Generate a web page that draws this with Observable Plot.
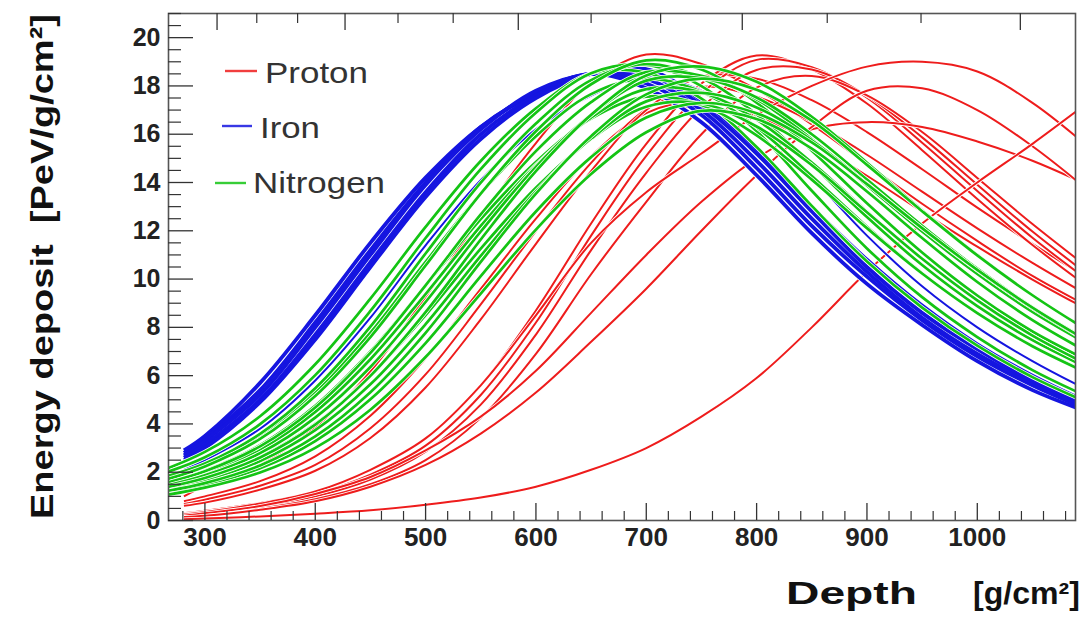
<!DOCTYPE html>
<html><head><meta charset="utf-8">
<script src="https://cdn.jsdelivr.net/npm/d3@7"></script>
<script src="https://cdn.jsdelivr.net/npm/@observablehq/plot@0.6"></script>
<style>
html,body{margin:0;padding:0;background:#fff;}
#chart{width:1088px;height:624px;}
</style></head><body><div id="chart"></div>
<script>
// ---------------- data ----------------
const legendLabels = ["Proton", "Iron", "Nitrogen"];
const familyColors = ["#ee1c1c", "#1515e0", "#14c414"];
const xTickLabels = [300, 400, 500, 600, 700, 800, 900, 1000];
const yTickLabels = [0, 2, 4, 6, 8, 10, 12, 14, 16, 18, 20];
const topMajorTicks = [311, 427, 584, 787, 1039];
const topMinorTicks = [347, 384, 475, 525, 650, 713, 864, 949];

const protonDepth = [281, 300, 350, 400, 450, 500, 550, 600, 650, 700, 750, 800, 850, 900, 950, 1000, 1050, 1100];
const protonValues = [
  [1.0, 1.45, 2.32, 3.86, 6.18, 9.26, 12.55, 15.63, 18.14, 19.3, 18.91, 17.85, 16.41, 14.76, 13.12, 11.58, 10.13, 8.88],
  [0.8, 1.0, 1.63, 2.66, 4.34, 6.72, 9.59, 12.5, 15.09, 16.87, 17.36, 16.77, 15.66, 14.28, 12.79, 11.34, 9.98, 8.73],
  [0.68, 0.86, 1.44, 2.3, 3.82, 6.05, 8.95, 11.99, 14.81, 17.03, 17.96, 17.55, 16.52, 15.15, 13.62, 12.1, 10.67, 9.34],
  [0.61, 0.74, 1.28, 2.06, 3.42, 5.51, 8.33, 11.46, 14.47, 17.0, 18.38, 18.3, 17.41, 16.09, 14.55, 12.96, 11.46, 10.04],
  [0.3, 0.4, 0.72, 1.2, 2.1, 3.4, 5.6, 8.7, 12.3, 15.6, 18.1, 19.26, 18.68, 17.27, 15.34, 13.32, 11.41, 9.69],
  [0.27, 0.36, 0.65, 1.1, 1.9, 3.1, 5.2, 8.2, 11.8, 15.1, 17.7, 19.08, 18.78, 17.51, 15.65, 13.65, 11.71, 9.96],
  [0.24, 0.32, 0.58, 1.0, 1.7, 2.85, 4.8, 7.7, 11.2, 14.4, 17.1, 18.66, 18.68, 17.59, 15.87, 13.91, 11.97, 10.2],
  [0.2, 0.28, 0.5, 0.88, 1.5, 2.5, 4.25, 6.9, 10.2, 13.2, 16.0, 17.93, 18.41, 17.61, 16.09, 14.19, 12.28, 10.49],
  [0.25, 0.35, 0.7, 1.2, 2.1, 3.4, 5.6, 8.5, 11.5, 13.6, 15.2, 16.8, 18.0, 18.8, 19.0, 18.6, 17.3, 15.5],
  [0.2, 0.3, 0.6, 1.1, 1.8, 2.9, 4.3, 6.2, 8.6, 11.0, 13.2, 15.0, 16.2, 16.5, 16.3, 15.7, 14.9, 13.9],
  [0.15, 0.2, 0.45, 0.8, 1.4, 2.3, 3.6, 5.3, 7.4, 9.6, 12.0, 14.3, 16.3, 17.8, 17.9, 17.0, 15.5, 13.7],
  [0.05, 0.08, 0.17, 0.28, 0.42, 0.65, 0.95, 1.4, 2.1, 3.0, 4.3, 5.9, 8.0, 10.3, 12.3, 14.0, 15.6, 17.3]
];

const ironDepth = [281, 300, 350, 400, 450, 500, 550, 600, 650, 700, 750, 800, 850, 900, 950, 1000, 1050, 1100];
const ironValues = [
  [2.9, 3.5, 5.7, 8.5, 11.5, 14.2, 16.3, 17.7, 18.5, 17.9, 16.5, 14.3, 11.9, 9.8, 8.1, 6.6, 5.4, 4.5],
  [2.8, 3.4, 5.4, 8.2, 11.2, 14.0, 16.3, 17.7, 18.5, 18.1, 16.8, 14.6, 12.2, 10.1, 8.3, 6.8, 5.6, 4.6],
  [2.7, 3.3, 5.2, 8.0, 11.0, 13.9, 16.2, 17.8, 18.5, 18.3, 17.0, 14.9, 12.5, 10.3, 8.4, 6.9, 5.7, 4.7],
  [2.6, 3.15, 5.0, 7.7, 10.7, 13.6, 16.0, 17.6, 18.5, 18.5, 17.2, 15.2, 12.8, 10.5, 8.6, 7.1, 5.8, 4.8],
  [2.5, 3.0, 4.9, 7.5, 10.5, 13.4, 15.8, 17.5, 18.5, 18.7, 17.4, 15.4, 13.0, 10.8, 8.9, 7.3, 6.0, 4.9]
];
const ironOutlierValues = [2.1, 2.5, 3.8, 5.8, 8.4, 11.4, 14.1, 16.2, 17.6, 18.4, 17.8, 16.3, 14.2, 11.8, 9.7, 8.0, 6.6, 5.4];

const nitrogenDepth = [260, 300, 350, 400, 450, 500, 550, 600, 650, 700, 750, 800, 850, 900, 950, 1000, 1050, 1100];
const nitrogenValues = [
  [2.05, 2.84, 4.32, 6.47, 9.19, 12.16, 14.89, 17.07, 18.52, 18.54, 17.47, 15.47, 13.03, 10.73, 8.82, 7.24, 5.94, 4.89],
  [1.92, 2.62, 3.99, 6.02, 8.68, 11.7, 14.55, 16.89, 18.53, 18.87, 17.99, 16.13, 13.66, 11.27, 9.25, 7.6, 6.23, 5.13],
  [1.7, 2.29, 3.48, 5.31, 7.78, 10.71, 13.54, 15.92, 17.66, 18.3, 17.75, 16.29, 14.27, 12.17, 10.25, 8.6, 7.23, 6.13],
  [1.76, 2.36, 3.59, 5.48, 8.03, 11.06, 13.99, 16.44, 18.24, 18.9, 18.33, 16.82, 14.74, 12.57, 10.58, 8.88, 7.47, 6.33],
  [1.5, 2.06, 3.12, 4.75, 7.0, 9.73, 12.48, 14.85, 16.65, 17.56, 17.21, 15.95, 14.12, 12.11, 10.23, 8.59, 7.22, 6.11],
  [1.63, 2.24, 3.38, 5.16, 7.6, 10.56, 13.54, 16.12, 18.07, 19.06, 18.68, 17.31, 15.32, 13.14, 11.1, 9.32, 7.83, 6.63],
  [1.44, 1.96, 2.95, 4.5, 6.68, 9.38, 12.2, 14.72, 16.69, 17.87, 17.73, 16.6, 14.83, 12.8, 10.84, 9.11, 7.65, 6.46],
  [1.5, 2.04, 3.07, 4.68, 6.94, 9.74, 12.68, 15.3, 17.33, 18.57, 18.42, 17.45, 15.8, 13.88, 11.97, 10.21, 8.64, 7.31],
  [1.31, 1.76, 2.63, 4.0, 5.99, 8.51, 11.26, 13.78, 15.8, 17.14, 17.28, 16.32, 14.72, 12.77, 10.84, 9.12, 7.66, 6.46],
  [1.39, 1.87, 2.79, 4.26, 6.36, 9.05, 11.97, 14.65, 16.8, 18.22, 18.32, 17.52, 16.0, 14.12, 12.21, 10.43, 8.84, 7.47],
  [1.25, 1.66, 2.46, 3.74, 5.64, 8.13, 10.96, 13.63, 15.82, 17.36, 17.71, 17.11, 15.75, 13.96, 12.1, 10.36, 8.79, 7.42],
  [1.33, 1.76, 2.61, 3.97, 5.99, 8.63, 11.64, 14.47, 16.8, 18.43, 18.8, 18.17, 16.72, 14.82, 12.85, 11.0, 9.33, 7.88],
  [1.12, 1.47, 2.16, 3.29, 5.02, 7.35, 10.12, 12.8, 15.05, 16.69, 17.3, 16.87, 15.66, 13.93, 12.11, 10.38, 8.82, 7.44],
  [1.18, 1.55, 2.28, 3.48, 5.31, 7.77, 10.71, 13.54, 15.92, 17.65, 18.3, 17.84, 16.56, 14.73, 12.81, 10.98, 9.33, 7.87],
  [1.02, 1.36, 1.99, 3.01, 4.59, 6.77, 9.4, 12.05, 14.35, 16.08, 16.97, 16.63, 15.4, 13.63, 11.7, 9.88, 8.3, 6.97]
];

// ---------------- build ----------------
const W = 1088, H = 624;
const mL = 168, mR = 13, mT = 13, mB = 104;
const plotW = W - mL - mR, plotH = H - mT - mB;
const FONT = "'Liberation Sans', Arial, Helvetica, sans-serif";

const xMinorTicks = d3.range(280, 1089, 20).filter(v => v % 100 !== 0);
const yMinorTicks = d3.range(0, 21.01, 0.5).filter(v => v % 2 !== 0);

function rows(depth, values) {
  return values.map(vs => vs.map((v, i) => ({depth: depth[i], energy: v})));
}
const protonRows = rows(protonDepth, protonValues);
const ironRows = rows(ironDepth, ironValues);
const ironOutlierRows = rows(ironDepth, [ironOutlierValues])[0];
const nitrogenRows = rows(nitrogenDepth, nitrogenValues);

const lineOpts = {x: "depth", y: "energy", curve: "catmull-rom", clip: true, strokeLinejoin: "round", strokeLinecap: "butt"};
const marks = [];
for (const r of protonRows) {
  marks.push(Plot.line(r, {...lineOpts, stroke: "white", strokeWidth: 3.6}));
  marks.push(Plot.line(r, {...lineOpts, stroke: familyColors[0], strokeWidth: 2.0}));
}
marks.push(Plot.line(ironOutlierRows, {...lineOpts, stroke: "white", strokeWidth: 3.6}));
marks.push(Plot.line(ironOutlierRows, {...lineOpts, stroke: familyColors[1], strokeWidth: 2.0}));
for (const r of ironRows) marks.push(Plot.line(r, {...lineOpts, stroke: "white", strokeWidth: 5.4}));
for (const r of ironRows) marks.push(Plot.line(r, {...lineOpts, stroke: familyColors[1], strokeWidth: 3.8}));
for (const r of nitrogenRows) {
  marks.push(Plot.line(r, {...lineOpts, stroke: "white", strokeWidth: 4.2}));
  marks.push(Plot.line(r, {...lineOpts, stroke: familyColors[2], strokeWidth: 2.7}));
}

marks.push(
  Plot.frame({stroke: "#555", strokeWidth: 1.6}),
  Plot.tickX(xTickLabels, {x: d => d, insetTop: plotH - 17, stroke: "#333", strokeWidth: 1.3}),
  Plot.tickX(xMinorTicks, {x: d => d, insetTop: plotH - 9, stroke: "#333", strokeWidth: 1.2}),
  Plot.tickX(topMajorTicks, {x: d => d, insetBottom: plotH - 17, stroke: "#333", strokeWidth: 1.3}),
  Plot.tickX(topMinorTicks, {x: d => d, insetBottom: plotH - 10, stroke: "#333", strokeWidth: 1.2}),
  Plot.tickY(yTickLabels, {y: d => d, insetRight: plotW - 25, stroke: "#333", strokeWidth: 1.3}),
  Plot.tickY(yMinorTicks, {y: d => d, insetRight: plotW - 13, stroke: "#333", strokeWidth: 1.2}),
  Plot.axisX(xTickLabels, {tickSize: 0, tickPadding: 7, fontSize: 26, fontWeight: "bold", fill: "#222", label: null, tickFormat: d => String(d)}),
  Plot.axisY(yTickLabels, {tickSize: 0, tickPadding: 8, fontSize: 25, fontWeight: "bold", fill: "#222", label: null, tickFormat: d => String(d)})
);

const svg = Plot.plot({
  width: W, height: H,
  marginLeft: mL, marginRight: mR, marginTop: mT, marginBottom: mB,
  x: {domain: [267, 1089]},
  y: {domain: [0, 21]},
  style: {fontFamily: FONT, background: "#fff", overflow: "visible"},
  marks
});

const s = d3.select(svg);
const g = s.append("g").attr("font-family", FONT).attr("text-anchor", "start");
g.append("text")
  .attr("transform", "translate(53,266.5) rotate(-90)")
  .attr("text-anchor", "middle").attr("font-size", 32).attr("font-weight", "bold")
  .attr("fill", "#111").style("white-space", "pre")
  .attr("textLength", 505).attr("lengthAdjust", "spacingAndGlyphs")
  .text("Energy deposit  [PeV/g/cm²]");
g.append("text").attr("x", 786).attr("y", 604).attr("text-anchor", "start")
  .attr("font-size", 31).attr("font-weight", "bold").attr("fill", "#111")
  .attr("textLength", 131).attr("lengthAdjust", "spacingAndGlyphs").text("Depth");
g.append("text").attr("x", 973).attr("y", 604).attr("text-anchor", "start")
  .attr("font-size", 31).attr("font-weight", "bold").attr("fill", "#111")
  .attr("textLength", 107).attr("lengthAdjust", "spacingAndGlyphs").text("[g/cm²]");

const legendLayout = [
  {x1: 225, x2: 257, ly: 71, tx: 265, ty: 83, tl: 103},
  {x1: 222, x2: 252, ly: 126, tx: 260, ty: 138, tl: 60},
  {x1: 215, x2: 246, ly: 183, tx: 253, ty: 193, tl: 132}
];
legendLabels.forEach((lab, i) => {
  const L = legendLayout[i];
  g.append("line").attr("x1", L.x1).attr("x2", L.x2).attr("y1", L.ly).attr("y2", L.ly)
    .attr("stroke", familyColors[i]).attr("stroke-width", 2.4).attr("stroke-opacity", 0.85);
  g.append("text").attr("x", L.tx).attr("y", L.ty).attr("text-anchor", "start")
    .attr("font-size", 29).attr("fill", "#333")
    .attr("textLength", L.tl).attr("lengthAdjust", "spacingAndGlyphs").text(lab);
});

document.getElementById("chart").appendChild(svg);
</script>
</body></html>
